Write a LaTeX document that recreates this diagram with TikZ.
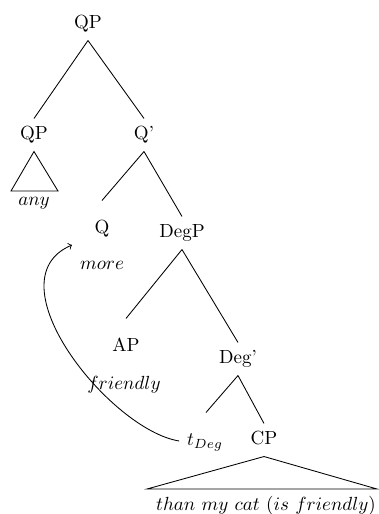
\documentclass[tikz,border=0pt]{standalone}
\usetikzlibrary{calc}
\begin{document}
\begin{tikzpicture}[x=0.5265pt,y=-0.5265pt,
  cat/.style={inner sep=4pt,text height=7pt,text depth=2pt},
  word/.style={inner sep=1pt},
  edge/.style={line width=0.45pt}]
\useasboundingbox (0,0) rectangle (378,514);
% categories
\node[cat] (QP) at (88,24) {QP};
\node[cat] (QPl) at (34,135) {QP};
\node[cat] (Qbar) at (144,135) {Q'};
\node[cat] (Q) at (102,229) {Q};
\node[cat] (DegP) at (182,233) {DegP};
\node[cat] (AP) at (126,347) {AP};
\node[cat] (Degbar) at (238,359) {Deg'};
\node[cat] (t) at (205,441) {$t_{Deg}$};
\node[cat] (CP) at (264,440) {CP};
% words
\node[word] (any) at (34,203) {$any$};
\node[word] (more) at (102,265) {$more$};
\node[word] (friendly) at (124,385) {$friendly$};
\node[word] (than) at (266,506) {$than\ my\ cat\ (is\ friendly)$};
% coordinates for triangles and arrow
\coordinate (aL) at (11,191);
\coordinate (aR) at (58,191);
\coordinate (cL) at (147,489);
\coordinate (cR) at (377,489);
\coordinate (arrowend) at (72,245);
% edges
\draw[edge] (QP.south) -- (QPl.north);
\draw[edge] (QP.south) -- (Qbar.north);
\draw[edge] (Qbar.south) -- ($(Q.north)+(0,-12)$);
\draw[edge] (Qbar.south) -- (DegP.north);
\draw[edge] (DegP.south) -- ($(AP.north)+(0,-12)$);
\draw[edge] (DegP.south) -- (Degbar.north);
\draw[edge] (Degbar.south) -- ($(t.north)+(1,-12)$);
\draw[edge] (Degbar.south) -- (CP.north);
% triangles
\draw[edge] (QPl.south) -- (aR) -- (aL) -- cycle;
\draw[edge] (CP.south) -- (cR) -- (cL) -- cycle;
% movement arrow
\draw[edge,->] (t.west) .. controls (110,430) and (-10,280) .. (arrowend);
\end{tikzpicture}
\end{document}
